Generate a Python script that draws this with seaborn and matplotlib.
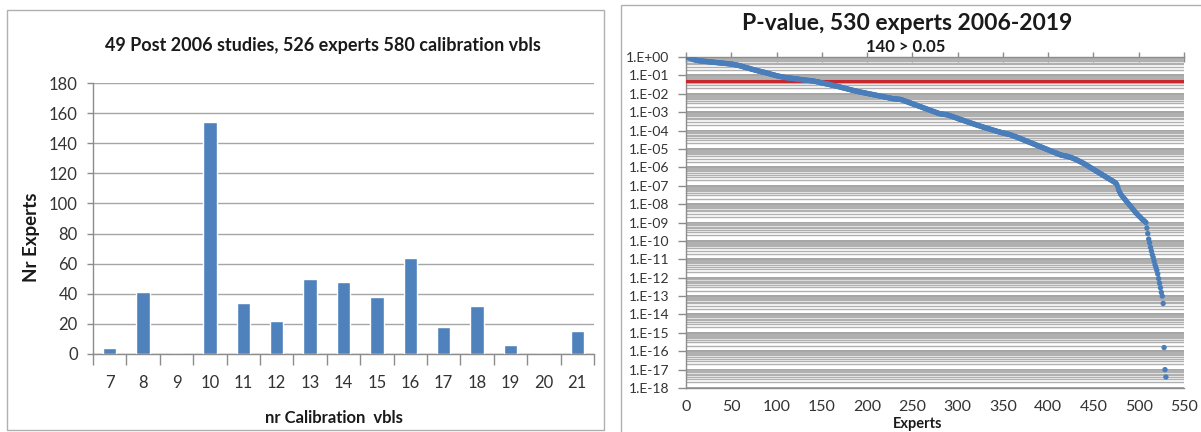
import numpy as np
import pandas as pd
import matplotlib
matplotlib.use("Agg")
import matplotlib.pyplot as plt
import seaborn as sns
from matplotlib.ticker import FixedLocator, FuncFormatter, NullFormatter, MultipleLocator
from matplotlib.patches import Rectangle

# Number of calibration variables per expert, and how many experts had that many
calib_vars = [7, 8, 9, 10, 11, 12, 13, 14, 15, 16, 17, 18, 19, 20, 21]
n_experts = [4, 41, 0, 154, 34, 22, 50, 48, 38, 64, 18, 32, 6, 0, 15]

# Calibration p-values of the experts, sorted, stored as -log10(p)
neg_log10_p = [
    0.00, 0.01, 0.03, 0.05, 0.07, 0.09, 0.11, 0.13, 0.14, 0.16,
    0.17, 0.18, 0.19, 0.20, 0.20, 0.21, 0.22, 0.22, 0.23, 0.23,
    0.24, 0.24, 0.25, 0.25, 0.26, 0.26, 0.27, 0.27, 0.28, 0.28,
    0.29, 0.29, 0.30, 0.30, 0.31, 0.31, 0.32, 0.32, 0.33, 0.33,
    0.34, 0.34, 0.35, 0.35, 0.36, 0.36, 0.37, 0.37, 0.38, 0.38,
    0.39, 0.40, 0.41, 0.42, 0.43, 0.44, 0.45, 0.46, 0.47, 0.48,
    0.50, 0.51, 0.53, 0.54, 0.56, 0.57, 0.58, 0.60, 0.61, 0.62,
    0.64, 0.65, 0.67, 0.68, 0.69, 0.71, 0.72, 0.73, 0.75, 0.76,
    0.77, 0.78, 0.80, 0.81, 0.82, 0.83, 0.84, 0.85, 0.87, 0.88,
    0.89, 0.91, 0.92, 0.94, 0.95, 0.96, 0.98, 0.99, 1.00, 1.02,
    1.03, 1.04, 1.05, 1.06, 1.07, 1.08, 1.09, 1.10, 1.11, 1.12,
    1.12, 1.13, 1.13, 1.14, 1.15, 1.15, 1.16, 1.17, 1.17, 1.18,
    1.19, 1.19, 1.20, 1.21, 1.21, 1.22, 1.23, 1.23, 1.24, 1.25,
    1.25, 1.26, 1.26, 1.27, 1.27, 1.28, 1.28, 1.29, 1.29, 1.30,
    1.31, 1.32, 1.33, 1.34, 1.35, 1.36, 1.37, 1.38, 1.40, 1.41,
    1.42, 1.43, 1.44, 1.45, 1.46, 1.47, 1.48, 1.49, 1.50, 1.52,
    1.53, 1.54, 1.55, 1.56, 1.57, 1.58, 1.59, 1.60, 1.62, 1.63,
    1.64, 1.66, 1.67, 1.68, 1.70, 1.71, 1.72, 1.73, 1.75, 1.76,
    1.77, 1.78, 1.80, 1.81, 1.82, 1.83, 1.84, 1.85, 1.87, 1.88,
    1.89, 1.90, 1.91, 1.92, 1.93, 1.94, 1.95, 1.96, 1.97, 1.98,
    1.99, 2.00, 2.01, 2.02, 2.03, 2.04, 2.05, 2.06, 2.07, 2.08,
    2.09, 2.10, 2.11, 2.12, 2.13, 2.14, 2.15, 2.16, 2.17, 2.18,
    2.19, 2.20, 2.21, 2.22, 2.23, 2.24, 2.25, 2.26, 2.27, 2.27,
    2.28, 2.28, 2.29, 2.29, 2.30, 2.30, 2.31, 2.32, 2.34, 2.36,
    2.38, 2.40, 2.41, 2.43, 2.45, 2.47, 2.49, 2.50, 2.52, 2.54,
    2.56, 2.58, 2.60, 2.61, 2.63, 2.65, 2.67, 2.69, 2.70, 2.72,
    2.74, 2.76, 2.78, 2.79, 2.81, 2.83, 2.85, 2.87, 2.88, 2.90,
    2.92, 2.94, 2.96, 2.97, 2.99, 3.01, 3.03, 3.05, 3.06, 3.08,
    3.09, 3.10, 3.11, 3.11, 3.12, 3.13, 3.13, 3.14, 3.15, 3.17,
    3.18, 3.20, 3.22, 3.23, 3.25, 3.27, 3.29, 3.30, 3.32, 3.34,
    3.36, 3.38, 3.39, 3.41, 3.43, 3.44, 3.46, 3.48, 3.50, 3.51,
    3.53, 3.55, 3.56, 3.58, 3.60, 3.61, 3.63, 3.65, 3.66, 3.68,
    3.70, 3.71, 3.73, 3.74, 3.76, 3.78, 3.79, 3.81, 3.82, 3.84,
    3.85, 3.87, 3.88, 3.90, 3.91, 3.93, 3.94, 3.96, 3.97, 3.99,
    4.00, 4.02, 4.03, 4.05, 4.06, 4.08, 4.09, 4.10, 4.12, 4.13,
    4.14, 4.15, 4.16, 4.18, 4.19, 4.20, 4.21, 4.22, 4.24, 4.26,
    4.28, 4.30, 4.32, 4.33, 4.35, 4.37, 4.39, 4.41, 4.43, 4.45,
    4.47, 4.49, 4.51, 4.53, 4.55, 4.57, 4.59, 4.61, 4.63, 4.65,
    4.67, 4.69, 4.71, 4.73, 4.75, 4.77, 4.79, 4.81, 4.83, 4.85,
    4.87, 4.89, 4.91, 4.93, 4.95, 4.97, 4.99, 5.01, 5.03, 5.05,
    5.07, 5.09, 5.11, 5.13, 5.15, 5.17, 5.19, 5.21, 5.23, 5.25,
    5.27, 5.29, 5.31, 5.33, 5.34, 5.35, 5.36, 5.37, 5.38, 5.39,
    5.40, 5.42, 5.43, 5.45, 5.46, 5.48, 5.50, 5.52, 5.54, 5.56,
    5.58, 5.61, 5.63, 5.66, 5.68, 5.71, 5.73, 5.76, 5.78, 5.81,
    5.84, 5.87, 5.90, 5.93, 5.96, 5.99, 6.02, 6.05, 6.08, 6.11,
    6.14, 6.17, 6.20, 6.23, 6.26, 6.29, 6.32, 6.35, 6.38, 6.41,
    6.44, 6.47, 6.50, 6.53, 6.56, 6.59, 6.62, 6.65, 6.68, 6.71,
    6.74, 6.77, 6.80, 6.83, 6.87, 6.95, 7.10, 7.25, 7.35, 7.45,
    7.52, 7.58, 7.64, 7.70, 7.76, 7.82, 7.88, 7.94, 8.00, 8.06,
    8.12, 8.18, 8.24, 8.30, 8.36, 8.42, 8.48, 8.53, 8.58, 8.63,
    8.68, 8.73, 8.78, 8.83, 8.87, 8.91, 8.96, 9.00, 9.30, 9.60,
    9.90, 10.10, 10.35, 10.55, 10.75, 10.90, 11.10, 11.30, 11.45, 11.60,
    11.80, 12.05, 12.30, 12.55, 12.80, 13.00, 13.40, 15.80, 17.00, 17.40,
]
threshold = 0.05

sns.set_theme(style="white")
plt.rcParams["font.family"] = ["Lato", "DejaVu Sans"]

W, H = 1201, 432
fig = plt.figure(figsize=(W / 100, H / 100), dpi=100)
fig.patch.set_facecolor("white")


def px_rect(x0, y0, x1, y1):
    """Axes rectangle from pixel box measured from the top-left corner."""
    return [x0 / W, 1 - y1 / H, (x1 - x0) / W, (y1 - y0) / H]


TXT = "#333333"
GRID = "#a6a6a6"
BLUE = "#4F81BD"

# Chart borders
fig.patches.append(Rectangle((7 / W, 1 - 430 / H), (604 - 7) / W, (430 - 10) / H,
                             transform=fig.transFigure, fill=False,
                             edgecolor="#b0b0b0", lw=1.0))
fig.patches.append(Rectangle((621 / W, -0.1), 1.0, 1 - 5 / H + 0.1,
                             transform=fig.transFigure, fill=False,
                             edgecolor="#b0b0b0", lw=1.0))

# ---------------- left: histogram of calibration-variable counts ----------------
ax1 = fig.add_axes(px_rect(93, 83, 594, 354))
df1 = pd.DataFrame({"vbls": [str(v) for v in calib_vars], "experts": n_experts})
sns.barplot(data=df1, x="vbls", y="experts", color=BLUE, saturation=1,
            width=0.4, ax=ax1, zorder=3)
ax1.set_ylim(0, 180)
ax1.set_xlim(-0.5, len(calib_vars) - 0.5)
ax1.yaxis.set_major_locator(MultipleLocator(20))
ax1.grid(axis="y", color=GRID, lw=1.0)
ax1.set_axisbelow(True)
for s in ("top", "right"):
    ax1.spines[s].set_visible(False)
for s in ("left", "bottom"):
    ax1.spines[s].set_color("#8c8c8c")
    ax1.spines[s].set_linewidth(1.0)
ax1.xaxis.set_minor_locator(FixedLocator(np.arange(-0.5, len(calib_vars), 1.0)))
ax1.tick_params(axis="x", which="major", length=0, pad=15, labelsize=12, labelcolor=TXT)
ax1.tick_params(axis="x", which="minor", bottom=True, length=8, width=1, color="#8c8c8c")
ax1.tick_params(axis="y", which="major", left=True, length=4, width=1, color="#8c8c8c",
                pad=7, labelsize=12, labelcolor=TXT)
ax1.set_xlabel("")
ax1.set_ylabel("")

fig.text(323 / W, 1 - 46 / H, "49 Post 2006 studies, 526 experts 580 calibration vbls",
         ha="center", va="center", fontsize=13, fontweight="bold", color="#1a1a1a")
fig.text(31 / W, 1 - 237 / H, "Nr Experts", ha="center", va="center", rotation=90,
         fontsize=13.5, fontweight="bold", color="#1a1a1a")
fig.text(334 / W, 1 - 418 / H, "nr Calibration  vbls", ha="center", va="center",
         fontsize=12, fontweight="bold", color="#1a1a1a")

# ---------------- right: sorted p-values on a log scale ----------------
ax2 = fig.add_axes(px_rect(686, 57, 1184, 388))
df2 = pd.DataFrame({"expert": np.arange(1, len(neg_log10_p) + 1),
                    "p": 10.0 ** (-np.asarray(neg_log10_p))})
ax2.set_yscale("log")
ax2.axhline(threshold, color="#C8282D", lw=2.2, zorder=3)
sns.scatterplot(data=df2, x="expert", y="p", color="#4A7EBB", s=15,
                edgecolor="none", linewidth=0, ax=ax2, zorder=4, legend=False)
ax2.set_ylim(1e-18, 1)
ax2.set_xlim(0, 550)

decades = [10.0 ** -k for k in range(0, 19)]
minor = [m * 10.0 ** -k for k in range(1, 19) for m in range(2, 10)]
ax2.yaxis.set_major_locator(FixedLocator(decades))
ax2.yaxis.set_minor_locator(FixedLocator(minor))
ax2.yaxis.set_major_formatter(FuncFormatter(
    lambda v, _: f"1.E{int(round(np.log10(v))):+03d}"))
ax2.yaxis.set_minor_formatter(NullFormatter())
ax2.xaxis.set_major_locator(MultipleLocator(50))

ax2.grid(axis="y", which="major", color="#8a8a8a", lw=1.1)
ax2.grid(axis="y", which="minor", color="#b0b0b0", lw=1.0)
ax2.set_axisbelow(True)

ax2.spines["right"].set_visible(False)
for s in ("left", "bottom", "top"):
    ax2.spines[s].set_color("#8c8c8c")
    ax2.spines[s].set_linewidth(1.0)
ax2.tick_params(axis="y", which="major", left=True, length=6, width=1, color="#8c8c8c",
                pad=6, labelsize=10, labelcolor=TXT)
ax2.tick_params(axis="y", which="minor", left=False, length=0)
ax2.tick_params(axis="x", which="major", top=True, bottom=False, labeltop=False,
                labelbottom=True, direction="inout", length=7, width=1,
                color="#8c8c8c", pad=5, labelsize=11.5, labelcolor=TXT)
ax2.set_xlabel("")
ax2.set_ylabel("")

fig.text(907 / W, 1 - 23 / H, "P-value, 530 experts 2006-2019", ha="center",
         va="center", fontsize=16.5, fontweight="bold", color="#1a1a1a")
fig.text(906 / W, 1 - 47 / H, "140 > 0.05", ha="center", va="center",
         fontsize=12, fontweight="bold", color="#1a1a1a")
fig.text(918 / W, 1 - 424 / H, "Experts", ha="center", va="center",
         fontsize=10.5, fontweight="bold", color="#1a1a1a")

fig.savefig("out.png", dpi=100, facecolor="white")
